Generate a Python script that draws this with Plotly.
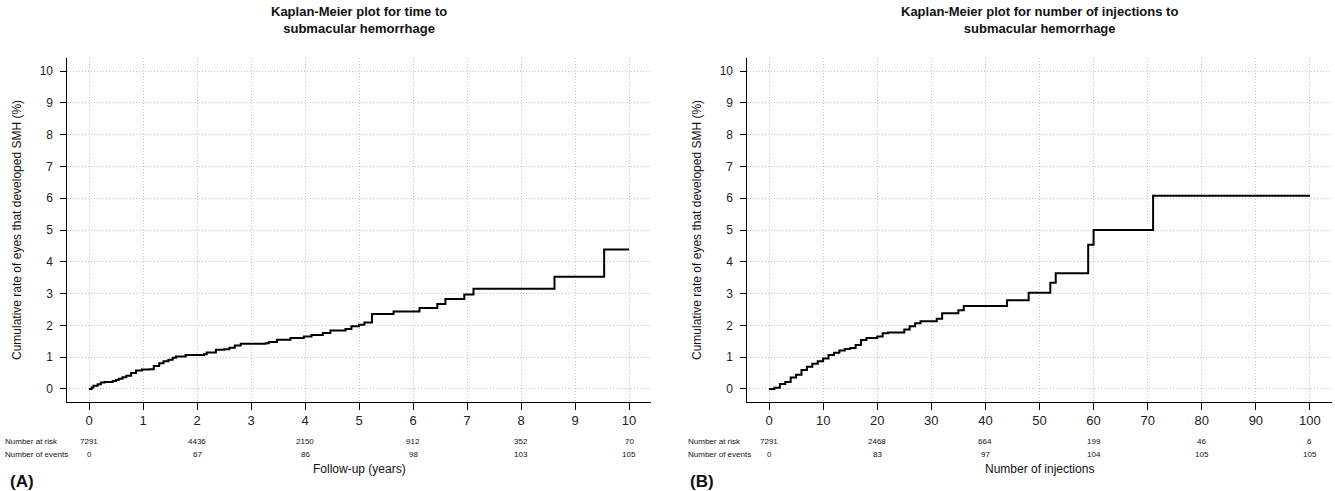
import plotly.graph_objects as go

# ---- Data ----
years_t = [0, 0.05, 0.08, 0.16, 0.22, 0.29, 0.44, 0.5, 0.55, 0.62, 0.69, 0.78, 0.87, 0.98, 1.12,
           1.2, 1.3, 1.38, 1.47, 1.55, 1.61, 1.79, 2.13, 2.18, 2.35, 2.5, 2.6, 2.7, 2.81,
           3.27, 3.33, 3.48, 3.73, 3.98, 4.12, 4.33, 4.47, 4.75, 4.86, 5.0, 5.1, 5.24,
           5.64, 6.12, 6.45, 6.6, 6.95, 7.12, 8.62, 9.54, 10.0]
cum_a = [0, 0.05, 0.1, 0.15, 0.2, 0.22, 0.25, 0.28, 0.32, 0.37, 0.42, 0.5, 0.58, 0.61, 0.62,
         0.72, 0.81, 0.87, 0.92, 0.98, 1.02, 1.07, 1.09, 1.15, 1.23, 1.25, 1.3, 1.37, 1.42,
         1.44, 1.48, 1.55, 1.6, 1.65, 1.7, 1.76, 1.84, 1.89, 1.97, 2.02, 2.09, 2.36,
         2.44, 2.55, 2.67, 2.83, 2.97, 3.15, 3.53, 4.39, 4.39]

inj_n = [0, 1, 2, 3, 4, 5, 6, 7, 8, 9, 10, 11, 12, 13, 14, 15, 16, 17, 18, 20, 21, 22,
         25, 26, 27, 28, 31, 32, 35, 36, 44, 48, 52, 53, 59, 60, 71, 100]
cum_b = [0, 0.04, 0.16, 0.22, 0.36, 0.45, 0.6, 0.7, 0.79, 0.87, 0.96, 1.07, 1.14, 1.21,
         1.26, 1.29, 1.38, 1.54, 1.6, 1.65, 1.75, 1.78, 1.87, 1.97, 2.07, 2.13, 2.21,
         2.38, 2.48, 2.61, 2.79, 3.03, 3.34, 3.64, 4.54, 5.0, 6.08, 6.08]

risk_x_a = [0, 2, 4, 6, 8, 10]
risk_a = ["7291", "4436", "2150", "912", "352", "70"]
events_a = ["0", "67", "86", "98", "103", "105"]

risk_x_b = [0, 20, 40, 60, 80, 100]
risk_b = ["7291", "2468", "664", "199", "46", "6"]
events_b = ["0", "83", "97", "104", "105", "105"]

title_a = "Kaplan-Meier plot for time to<br>submacular hemorrhage"
title_b = "Kaplan-Meier plot for number of injections to<br>submacular hemorrhage"
ytitle = "Cumulative rate of eyes that developed SMH (%)"
xtitle_a = "Follow-up (years)"
xtitle_b = "Number of injections"

# ---- Layout geometry ----
W, H = 1335, 491
FONT = "Liberation Sans, Arial, Helvetica, sans-serif"

def px(x):
    return x / W

def py(y):
    return 1 - y / H

ydom = [py(401.7), py(58.3)]
xdom_a = [px(67.4), px(650.6)]
xdom_b = [px(747.4), px(1331.6)]

fig = go.Figure()
fig.add_trace(go.Scatter(x=years_t, y=cum_a, mode="lines", line=dict(shape="hv", color="black", width=2),
                         xaxis="x", yaxis="y", showlegend=False, hoverinfo="skip"))
fig.add_trace(go.Scatter(x=inj_n, y=cum_b, mode="lines", line=dict(shape="hv", color="black", width=2),
                         xaxis="x2", yaxis="y2", showlegend=False, hoverinfo="skip"))

grid = dict(showgrid=True, gridcolor="#c4c4c4", griddash="1px,2px", gridwidth=1, zeroline=False,
            showline=True, linecolor="black", linewidth=1, ticks="outside", tickcolor="black",
            tickfont=dict(family=FONT, size=12, color="#222"))

xax = dict(grid, ticklen=7, ticklabelstandoff=0, tickfont=dict(family=FONT, size=13, color="#222"))
yax = dict(grid, ticklen=6, range=[-0.4, 10.4], dtick=1, tick0=0, ticklabelstandoff=5)

fig.update_layout(
    width=W, height=H, margin=dict(l=0, r=0, t=0, b=0),
    paper_bgcolor="white", plot_bgcolor="white",
    xaxis=dict(xax, domain=xdom_a, range=[-0.4, 10.4], dtick=1, tick0=0, anchor="y"),
    yaxis=dict(yax, domain=ydom, anchor="x"),
    xaxis2=dict(xax, domain=xdom_b, range=[-4, 104], dtick=10, tick0=0, anchor="y2"),
    yaxis2=dict(yax, domain=ydom, anchor="x2"),
)

ann = []
def add_text(text, x, y, size, xref="paper", anchor="center", bold=False, angle=0):
    ann.append(dict(text=("<b>%s</b>" % text) if bold else text, x=x, y=y, xref=xref, yref="paper",
                    showarrow=False, xanchor=anchor, yanchor="middle", textangle=angle,
                    font=dict(family=FONT, size=size, color="#111")))

# titles
add_text(title_a, px(359), py(20), 13, bold=True)
add_text(title_b, px(1039), py(20), 13, bold=True)
# y titles
add_text(ytitle, px(17), py(230), 12, angle=-90)
add_text(ytitle, px(697), py(230), 12, angle=-90)
# risk tables
for xs, rk, ev, xr, lx in [(risk_x_a, risk_a, events_a, "x", 3), (risk_x_b, risk_b, events_b, "x2", 686)]:
    add_text("Number at risk", px(lx), py(441), 8, anchor="left")
    add_text("Number of events", px(lx), py(454), 8, anchor="left")
    for xv, r, e in zip(xs, rk, ev):
        add_text(r, xv, py(441), 8, xref=xr)
        add_text(e, xv, py(454), 8, xref=xr)
# x titles
add_text(xtitle_a, px(359), py(469), 12)
add_text(xtitle_b, px(1039), py(469), 12)
# panel labels
add_text("(A)", px(8), py(481), 17, anchor="left", bold=True)
add_text("(B)", px(688), py(481), 17, anchor="left", bold=True)

fig.update_layout(annotations=ann)
fig.write_html("out.html", config={"displayModeBar": False},
               post_script="document.body.style.margin='0';document.body.style.overflow='hidden';")
